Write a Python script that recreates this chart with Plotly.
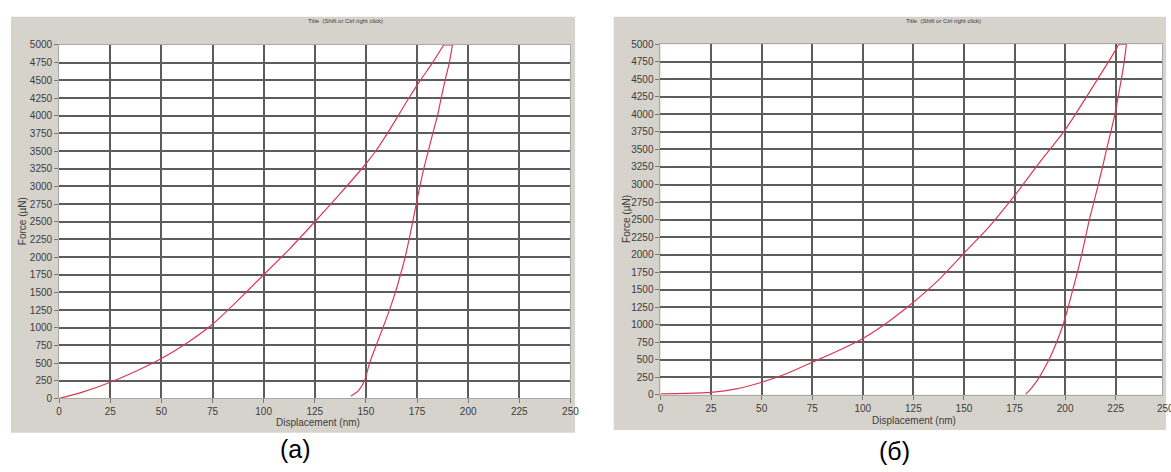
import plotly.graph_objects as go

# ---- sample (a): load / unload curves ----
load_a_disp = [0, 12.5, 25, 37.5, 50, 62.5, 75, 87.5, 100, 112.5, 125, 137.5,
               150, 154.8, 160.5, 165.8, 171, 176.6, 182.6, 188]
load_a_force = [0, 100, 230, 385, 565, 785, 1050, 1390, 1750, 2110, 2500, 2900,
                3320, 3500, 3750, 4000, 4250, 4500, 4750, 5000]
unload_a_disp = [192.3, 190.8, 188.7, 186.8, 185.0, 182.7, 180.5, 178.3, 176.4,
                 174.6, 172.9, 171.1, 169.2, 166.9, 164.4, 161.5, 158.3, 155.0,
                 151.8, 149.3, 146.4, 142.7]
unload_a_force = [5000, 4750, 4500, 4250, 4000, 3750, 3500, 3250, 3000, 2750,
                  2500, 2250, 2000, 1750, 1500, 1250, 1000, 750, 500, 250, 110, 35]

# ---- sample (б): load / unload curves ----
load_b_disp = [0, 12.5, 25, 37.5, 50, 62.5, 75, 87.5, 100, 112.5, 125, 137.5,
               150, 162.5, 175, 187.5, 200, 212.5, 225, 226.5]
load_b_force = [15, 20, 35, 85, 180, 305, 465, 625, 805, 1040, 1320, 1640,
                2020, 2400, 2840, 3320, 3780, 4340, 4920, 5000]
unload_b_disp = [230.3, 229.2, 227.8, 226.2, 224.6, 222.6, 220.5, 218.5, 216.4,
                 214.2, 212, 210.1, 208.2, 206.1, 203.8, 201.5, 199, 195.8,
                 192, 187.2, 183.5, 180.5]
unload_b_force = [5000, 4750, 4500, 4250, 4000, 3750, 3500, 3250, 3000, 2750,
                  2500, 2250, 2000, 1750, 1500, 1250, 1000, 750, 500, 250, 100, 10]

x_ticks = [0, 25, 50, 75, 100, 125, 150, 175, 200, 225, 250]
y_ticks = list(range(0, 5001, 250))

W, H = 1171, 472
FONT = "Arial, Liberation Sans, sans-serif"
CURVE = "#d83a52"
PANEL = "#d6d3cc"
GRID = "#5c5c5c"


def px_x(p):
    return p / W


def px_y(p):
    return (H - p) / H


fig = go.Figure()

# each curve: loading branch, hold at peak force, unloading branch
for load_x, load_y, unl_x, unl_y, xa, ya in [
    (load_a_disp, load_a_force, unload_a_disp, unload_a_force, "x", "y"),
    (load_b_disp, load_b_force, unload_b_disp, unload_b_force, "x2", "y2"),
]:
    fig.add_trace(go.Scatter(
        x=load_x, y=load_y, mode="lines",
        line=dict(color=CURVE, width=1.2, shape="spline", smoothing=0.7),
        xaxis=xa, yaxis=ya, cliponaxis=False, showlegend=False))
    fig.add_trace(go.Scatter(
        x=[load_x[-1], unl_x[0]], y=[load_y[-1], unl_y[0]], mode="lines",
        line=dict(color=CURVE, width=1.2),
        xaxis=xa, yaxis=ya, cliponaxis=False, showlegend=False))
    fig.add_trace(go.Scatter(
        x=unl_x, y=unl_y, mode="lines",
        line=dict(color=CURVE, width=1.2, shape="spline", smoothing=0.7),
        xaxis=xa, yaxis=ya, cliponaxis=False, showlegend=False))

axis_common = dict(
    showgrid=True, gridcolor=GRID, gridwidth=1.5, zeroline=False,
    showline=True, linecolor="#a8a8a8", linewidth=1, mirror=True,
    ticks="outside", ticklen=4, tickcolor="#777777", tickwidth=1,
    tickfont=dict(family=FONT, size=10, color="#3c3c3c"),
    fixedrange=True,
)

# panel (a) plot area: x 56.7..573.3 px, y 40..402.7 px
xa_dom = [px_x(56.7), px_x(573.3)]
ya_dom = [px_y(402.7), px_y(40)]
# panel (б) plot area: x 664.3..1171 px (runs off the page), y 39.3..399 px
xb_dom = [px_x(664.3), 1.0]
yb_dom = [px_y(399), px_y(39.3)]
xb_max = (W - 664.3) * 250 / 511.0

fig.update_layout(
    width=W, height=H,
    margin=dict(l=0, r=0, t=0, b=0),
    paper_bgcolor="white", plot_bgcolor="white",
    xaxis=dict(domain=xa_dom, range=[0, 250], tickvals=x_ticks, anchor="y", **axis_common),
    yaxis=dict(domain=ya_dom, range=[0, 5000], tickvals=y_ticks, anchor="x", **axis_common),
    xaxis2=dict(domain=xb_dom, range=[0, xb_max], tickvals=x_ticks, anchor="y2", **axis_common),
    yaxis2=dict(domain=yb_dom, range=[0, 5000], tickvals=y_ticks, anchor="x2", **axis_common),
)

# grey instrument-window panels with white plot areas on top
shapes = []
for gx0, gx1, gy0, gy1, xd, yd in [
    (8, 578, 11, 438, xa_dom, ya_dom),
    (617, 1175, 11, 435, xb_dom, yb_dom),
]:
    shapes.append(dict(type="rect", xref="paper", yref="paper", layer="below",
                       x0=px_x(gx0), x1=px_x(gx1), y0=px_y(gy1), y1=px_y(gy0),
                       fillcolor=PANEL, line=dict(width=0)))
    shapes.append(dict(type="rect", xref="paper", yref="paper", layer="below",
                       x0=xd[0], x1=xd[1], y0=yd[0], y1=yd[1],
                       fillcolor="white", line=dict(width=0)))
fig.update_layout(shapes=shapes)

ann = []


def text(x, y, s, size, color="#3c3c3c", angle=0, family=FONT):
    ann.append(dict(xref="paper", yref="paper", x=px_x(x), y=px_y(y), text=s,
                    showarrow=False, xanchor="center", yanchor="middle",
                    textangle=angle, font=dict(family=family, size=size, color=color)))


# window titles
text(346, 15.7, "Title  (Shift or Ctrl right click)", 6)
text(950, 15.7, "Title  (Shift or Ctrl right click)", 6)
# axis titles
text(318, 427, "Displacement (nm)", 10)
text(920, 425, "Displacement (nm)", 10)
text(20, 221, "Force (µN)", 10, angle=-90)
text(630, 219, "Force (µN)", 10, angle=-90)
# last x tick label of panel (б), falling at the page edge
text(1175, 412.5, "250", 10)
# sub-figure labels
text(296, 455, "(a)", 25, color="#000000")
text(901, 457, "(б)", 25, color="#000000")

fig.update_layout(annotations=ann)

fig.write_html("out.html")
